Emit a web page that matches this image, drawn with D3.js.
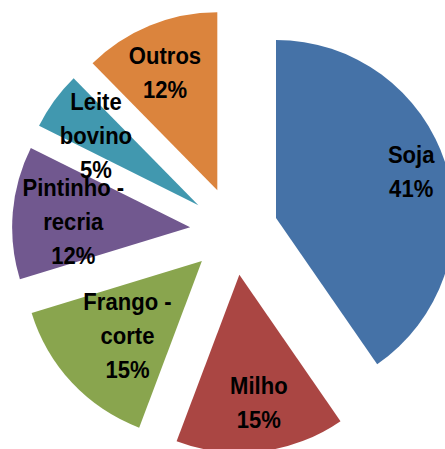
<!DOCTYPE html>
<html>
<head>
<meta charset="utf-8">
<script src="https://cdn.jsdelivr.net/npm/d3@7"></script>
<style>
  body { margin: 0; background: #fff; }
  svg { display: block; }
  text { font-family: "Liberation Sans", Arial, sans-serif; font-weight: bold; font-size: 24px; fill: #000; }
</style>
</head>
<body>
<svg id="chart" width="445" height="449"></svg>
<script>
//Chart data (percent shares, label shows the rounded value)
const categories = ["Soja", "Milho", "Frango - corte", "Pintinho - recria", "Leite bovino", "Outros"];
const shares = [40.5, 15.4, 14.6, 12.1, 5.3, 12.4];
const colors = ["#4572A7", "#AA4643", "#89A54E", "#71588F", "#4198AF", "#DB843D"];

//Layout
const width = 445, height = 449;
const cx = 234, cy = 231;
const radius = 178;
const explode = 44;
const lineH = 34;
const labelTurn = -1.7 * Math.PI / 180; //labels sit a bit counter-clockwise of the bisector
//distance of label from the slice tip (Excel best fit)
const labelDist = { "Soja": 143, "Milho": 129, "Frango - corte": 105, "Pintinho - recria": 117, "Leite bovino": 124, "Outros": 129 };

const svg = d3.select("#chart");
const g = svg.append("g").attr("transform", `translate(${cx},${cy})`);

const pie = d3.pie().sort(null).value((d) => d.value);
const arc = d3.arc().innerRadius(0).outerRadius(radius);

const slices = pie(categories.map((c, i) => ({ name: c, value: shares[i], color: colors[i] })));

//Offset of a slice along its bisector
function offset(d, dist, turn = 0) {
  const a = (d.startAngle + d.endAngle) / 2 + turn;
  return [dist * Math.sin(a), -dist * Math.cos(a)];
}

//Wrap name: split on spaces, keep "-" with previous word
function wrapName(name) {
  const out = [];
  name.split(" ").forEach((w) => {
    if (w === "-" && out.length) out[out.length - 1] += " -";
    else out.push(w);
  });
  return out;
}

const sliceG = g.selectAll("g.slice")
  .data(slices)
  .join("g")
  .attr("class", "slice")
  .attr("transform", (d) => `translate(${offset(d, explode)})`);

sliceG.append("path")
  .attr("d", arc)
  .attr("fill", (d) => d.data.color);

//Labels (squeezed a little to look like Calibri)
sliceG.each(function (d) {
  const lines = wrapName(d.data.name).concat([Math.round(d.data.value) + "%"]);
  const [lx, ly] = offset(d, labelDist[d.data.name], labelTurn);
  const t = d3.select(this).append("text")
    .attr("text-anchor", "middle")
    .attr("transform", `translate(${lx},${ly}) scale(0.92,1)`);
  t.selectAll("tspan")
    .data(lines)
    .join("tspan")
    .attr("x", 0)
    .attr("y", (l, i) => (i - (lines.length - 1) / 2) * lineH + 8.5)
    .text((l) => l);
});
</script>
</body>
</html>
